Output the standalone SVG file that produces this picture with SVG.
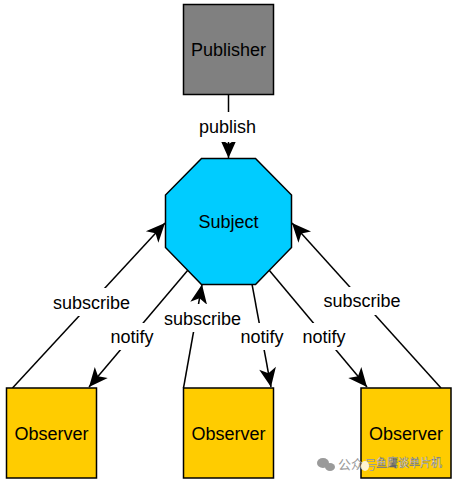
<svg xmlns="http://www.w3.org/2000/svg" width="456" height="484" viewBox="0 0 456 484">
<style>
text{font-family:"Liberation Sans",Arial,sans-serif;fill:#000;text-anchor:middle}
.node{stroke:#000;stroke-width:1.5}
.nl,.ll{font-size:18px}
.c{fill:none;stroke:#000;stroke-width:1.5;marker-end:url(#a)}
.lb{fill:#fff}
.wm{font-family:"Noto Sans CJK SC","Liberation Sans",sans-serif;font-size:13px;fill:#9a9a9a;text-anchor:start}
.wm2{font-family:"Noto Sans CJK SC","Liberation Sans",sans-serif;font-size:11px;fill:#fff;stroke:#666;stroke-width:.35;text-anchor:start}
.ic{fill:#9a9a9a}
</style>
<defs>
<marker id="a" markerUnits="userSpaceOnUse" markerWidth="24" markerHeight="22" viewBox="-22 -11 24 22" refX="0" refY="0" orient="auto">
<path d="M0 0L-19-8.500L-14 0L-19 8.500Z" fill="#000"/>
</marker>
</defs>
<g id="connectors">
<path class="c" d="M228.500 94.500V158"/>
<path class="c" d="M12.500 388L165 223"/>
<path class="c" d="M188 270L89 387"/>
<path class="c" d="M183.500 388L202 284.500"/>
<path class="c" d="M252 284L271 387"/>
<path class="c" d="M269 270L367 387"/>
<path class="c" d="M441 388L292 223"/>
<rect class="lb" x="197" y="112" width="61" height="30"/>
<rect class="lb" x="51" y="288" width="81" height="28"/>
<rect class="lb" x="108" y="323" width="48" height="27"/>
<rect class="lb" x="162" y="304" width="81" height="28"/>
<rect class="lb" x="238" y="323" width="48" height="27"/>
<rect class="lb" x="300" y="323" width="48" height="27"/>
<rect class="lb" x="322" y="287" width="81" height="28"/>
<text class="ll" x="227.500" y="133">publish</text>
<text class="ll" x="91.500" y="309">subscribe</text>
<text class="ll" x="132" y="343">notify</text>
<text class="ll" x="202.500" y="325">subscribe</text>
<text class="ll" x="262" y="343">notify</text>
<text class="ll" x="324" y="343">notify</text>
<text class="ll" x="362" y="307">subscribe</text>
</g>
<g id="publisher"><rect class="node" x="183.500" y="4.500" width="90" height="90" fill="#808080"/><text class="nl" x="228.500" y="56">Publisher</text></g>
<g id="subject"><polygon class="node" points="201.500,158.500 255.500,158.500 291.500,195 291.500,247.500 255.500,284.500 201.500,284.500 165.500,247.500 165.500,195" fill="#00ccff"/><text class="nl" x="228.500" y="228">Subject</text></g>
<g id="observer-1"><rect class="node" x="6.500" y="388" width="90" height="90" fill="#ffcc00"/><text class="nl" x="51.500" y="440">Observer</text></g>
<g id="observer-2"><rect class="node" x="183.500" y="388" width="90" height="90" fill="#ffcc00"/><text class="nl" x="228.500" y="440">Observer</text></g>
<g id="observer-3"><rect class="node" x="361" y="388" width="90" height="90" fill="#ffcc00"/><text class="nl" x="406" y="440">Observer</text></g>
<g id="watermark"><ellipse class="ic" cx="323" cy="463" rx="6" ry="5"/><ellipse class="ic" cx="330" cy="467" rx="5" ry="4"/><text class="wm" x="338" y="469">公众号</text><ellipse cx="365" cy="466" rx="4" ry="5" fill="#fff3d0"/><text class="wm2" x="376" y="467">鱼鹰谈单片机</text></g>
</svg>
